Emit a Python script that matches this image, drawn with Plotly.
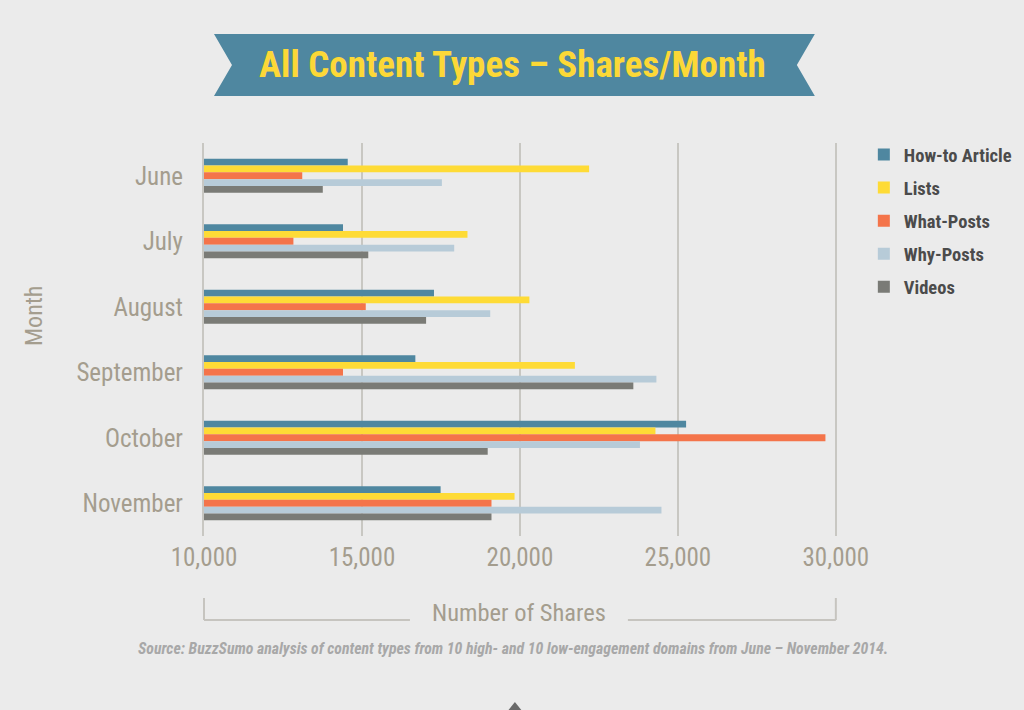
import plotly.graph_objects as go

months = ["June", "July", "August", "September", "October", "November"]
series_names = ["How-to Article", "Lists", "What-Posts", "Why-Posts", "Videos"]
howto = [14550, 14400, 17280, 16690, 25260, 17490]
lists = [22190, 18340, 20300, 21740, 24290, 19830]
what_posts = [13110, 12830, 15120, 14400, 29670, 19100]
why_posts = [17530, 17920, 19060, 24320, 23800, 24480]
videos = [13760, 15200, 17030, 23590, 18980, 19100]
x_ticks = [10000, 15000, 20000, 25000, 30000]
x_tick_labels = ["10,000", "15,000", "20,000", "25,000", "30,000"]

colors = ["#4f87a0", "#fedb36", "#f4744a", "#b7cbd8", "#7a7b76"]
values = [howto, lists, what_posts, why_posts, videos]

W, H = 1024, 710
L, T = 204, 143
X0, X1 = 10000, 30100
PW = 632 * (X1 - X0) / 20000
PH = 393
R = W - L - PW
B = H - T - PH

FONT = "Roboto Condensed, Roboto, Liberation Sans, sans-serif"
TXT = "#a49d8e"

def px(x):
    return (x - L) / PW

def py(y):
    return (T + PH - y) / PH

fig = go.Figure()
for name, vals, col in zip(series_names, values, colors):
    fig.add_trace(go.Bar(
        y=months, x=vals, name=name, orientation="h", legendgroup=name,
        marker=dict(color=col, line=dict(width=0)),
    ))

shapes = []
# ribbon banner
bl, bn, br, brn = 214, 232, 815, 797
bt, bb = 34, 96
bm = (bt + bb) / 2
path = (f"M {px(bl)} {py(bt)} L {px(br)} {py(bt)} L {px(brn)} {py(bm)} L {px(br)} {py(bb)} "
        f"L {px(bl)} {py(bb)} L {px(bn)} {py(bm)} Z")
shapes.append(dict(type="path", xref="paper", yref="paper", path=path,
                   fillcolor="#4f87a0", line=dict(width=0), layer="below"))
# bottom bracket
bc = "#c6c4bf"
for a, b_ in [((204, 598), (204, 620)), ((836, 598), (836, 620)),
              ((204, 620), (410, 620)), ((628, 620), (836, 620))]:
    shapes.append(dict(type="line", xref="paper", yref="paper",
                       x0=px(a[0]), y0=py(a[1]), x1=px(b_[0]), y1=py(b_[1]),
                       line=dict(color=bc, width=2)))
# small marker at bottom
tri = f"M {px(507)} {py(712)} L {px(515)} {py(702)} L {px(523)} {py(712)} Z"
shapes.append(dict(type="path", xref="paper", yref="paper", path=tri,
                   fillcolor="#6a6a6a", line=dict(width=0)))

annotations = [
    dict(text="All Content Types – Shares/Month", xref="paper", yref="paper",
         x=px(513), y=py(65), showarrow=False, xanchor="center", yanchor="middle",
         font=dict(family=FONT, size=37, color="#fcd837", weight="bold")),
    dict(text="Number of Shares", xref="paper", yref="paper",
         x=px(519), y=py(612), showarrow=False, xanchor="center", yanchor="middle",
         font=dict(family=FONT, size=24.5, color=TXT)),
    dict(text="Source: BuzzSumo analysis of content types from 10 high- and 10 low-engagement domains from June – November 2014.",
         xref="paper", yref="paper", x=px(513), y=py(648), showarrow=False,
         xanchor="center", yanchor="middle",
         font=dict(family=FONT, size=15.8, color="#a8a8a8", style="italic", weight="bold")),
    dict(text="Month", xref="paper", yref="paper", x=px(34), y=py(316),
         showarrow=False, textangle=-90, xanchor="center", yanchor="middle",
         font=dict(family=FONT, size=24, color=TXT)),
]

fig.update_layout(
    width=W, height=H,
    margin=dict(l=L, r=R, t=T, b=B, pad=0, autoexpand=False),
    paper_bgcolor="#ebebeb", plot_bgcolor="#ebebeb",
    barmode="group", bargap=0.48, bargroupgap=0,
    showlegend=True,
    legend=dict(x=px(864), y=py(136), xanchor="left", yanchor="top",
                font=dict(family=FONT, size=18.5, color="#4b4b4b", weight="bold"),
                bgcolor="rgba(0,0,0,0)", traceorder="grouped", tracegroupgap=6,
                itemwidth=30),
    xaxis=dict(range=[X0, X1], tickvals=x_ticks, ticktext=x_tick_labels,
               showgrid=True, gridcolor="#c8c7c2", gridwidth=2, zeroline=False,
               showline=False, ticks="", ticklabelstandoff=4,
               tickfont=dict(family=FONT, size=25, color=TXT)),
    yaxis=dict(categoryorder="array", categoryarray=months, autorange="reversed",
               showline=True, linecolor="#c8c7c2", linewidth=2, showgrid=False,
               ticks="", ticklabelstandoff=14,
               tickfont=dict(family=FONT, size=25, color=TXT)),
    shapes=shapes, annotations=annotations,
)

fig.write_html("out.html", config={"displayModeBar": False},
               post_script="document.body.style.margin='0px';document.body.style.background='#ebebeb';")
